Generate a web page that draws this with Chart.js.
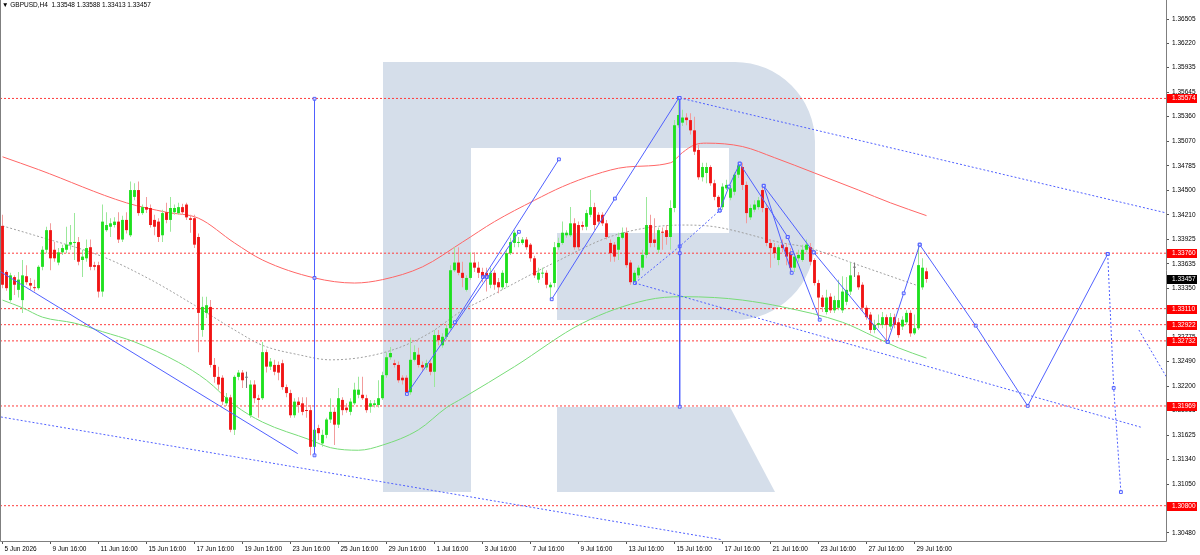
<!DOCTYPE html>
<html>
<head>
<meta charset="utf-8">
<script src="https://cdn.jsdelivr.net/npm/chart.js@4.4.1/dist/chart.umd.min.js"></script>
<style>
  html, body { margin: 0; padding: 0; background: #fff; }
  #wrap { position: relative; width: 1200px; height: 555px; }
  #title { position: absolute; left: 2px; top: 1px; font: 6.5px "Liberation Sans", Arial, sans-serif; line-height: 8px; color: #000; white-space: pre; }
</style>
</head>
<body>
<div id="wrap">
  <canvas id="chart" width="1200" height="555"></canvas>
  <div id="title">▼ GBPUSD,H4  1.33548 1.33588 1.33413 1.33457</div>
</div>
<script>
// H4 bars, index 0 = 5 Jun 2026 16:00
const timeLabels = ["5 Jun 2026", "9 Jun 16:00", "11 Jun 16:00", "15 Jun 16:00", "17 Jun 16:00", "19 Jun 16:00",
  "23 Jun 16:00", "25 Jun 16:00", "29 Jun 16:00", "1 Jul 16:00", "3 Jul 16:00", "7 Jul 16:00", "9 Jul 16:00",
  "13 Jul 16:00", "15 Jul 16:00", "17 Jul 16:00", "21 Jul 16:00", "23 Jul 16:00", "27 Jul 16:00", "29 Jul 16:00"];
const timeTickIdx = timeLabels.map((t, i) => i * 12);

const priceTicks = [1.36505, 1.36220, 1.35935, 1.35645, 1.35360, 1.35070, 1.34785, 1.34500, 1.34210, 1.33925,
  1.33635, 1.33350, 1.33065, 1.32775, 1.32490, 1.32200, 1.31915, 1.31625, 1.31340, 1.31050, 1.30765, 1.30480];

const opens = [
  1.3408,1.3354,1.3321,1.3348,1.3333,1.3321,1.3349,1.3341,1.3336,1.3335,
  1.3360,1.3380,1.3403,1.3380,1.3365,1.3377,1.3380,1.3386,1.3388,1.3389,
  1.3368,1.3370,1.3383,1.3362,1.3362,1.3331,1.3403,1.3407,1.3409,1.3413,
  1.3392,1.3415,1.3397,1.3442,1.3450,1.3423,1.3430,1.3429,1.3415,1.3413,
  1.3397,1.3424,1.3415,1.3424,1.3423,1.3430,1.3433,1.3417,1.3417,1.3395,
  1.3286,1.3306,1.3313,1.3245,1.3231,1.3230,1.3200,1.3207,1.3169,1.3231,
  1.3236,1.3230,1.3186,1.3222,1.3206,1.3206,1.3260,1.3243,1.3245,1.3245,
  1.3247,1.3219,1.3212,1.3186,1.3202,1.3200,1.3192,1.3192,1.3149,1.3171,
  1.3153,1.3163,1.3181,1.3190,1.3175,1.3204,1.3195,1.3190,1.3200,1.3210,
  1.3210,1.3206,1.3196,1.3198,1.3198,1.3206,1.3233,1.3254,1.3247,1.3245,
  1.3230,1.3230,1.3213,1.3251,1.3257,1.3245,1.3242,1.3247,1.3237,1.3280,
  1.3268,1.3278,1.3288,1.3356,1.3365,1.3353,1.3333,1.3347,1.3365,1.3359,
  1.3354,1.3353,1.3339,1.3353,1.3342,1.3336,1.3341,1.3376,1.3388,1.3388,
  1.3388,1.3392,1.3386,1.3370,1.3345,1.3352,1.3353,1.3336,1.3341,1.3383,
  1.3388,1.3397,1.3397,1.3411,1.3409,1.3409,1.3407,1.3421,1.3430,1.3421,
  1.3421,1.3411,1.3388,1.3386,1.3380,1.3394,1.3400,1.3365,1.3341,1.3350,
  1.3359,1.3374,1.3409,1.3392,1.3380,1.3401,1.3403,1.3395,1.3429,1.3526,
  1.3529,1.3535,1.3532,1.3520,1.3497,1.3465,1.3470,1.3477,1.3458,1.3442,
  1.3430,1.3452,1.3441,1.3448,1.3468,1.3477,1.3456,1.3418,1.3427,1.3430,
  1.3450,1.3429,1.3388,1.3383,1.3368,1.3386,1.3383,1.3377,1.3359,1.3370,
  1.3368,1.3380,1.3383,1.3368,1.3341,1.3324,1.3307,1.3325,1.3309,1.3312,
  1.3309,1.3319,1.3331,1.3359,1.3350,1.3339,1.3312,1.3304,1.3286,1.3292,
  1.3292,1.3301,1.3290,1.3301,1.3295,1.3290,1.3295,1.3306,1.3282,1.3288,
  1.3336,1.33548];
const highs = [
  1.3421,1.3356,1.3353,1.3350,1.3354,1.3368,1.3362,1.3347,1.3345,1.3362,
  1.3384,1.3407,1.3411,1.3389,1.3382,1.3386,1.3407,1.3409,1.3423,1.3395,
  1.3380,1.3392,1.3392,1.3366,1.3366,1.3433,1.3424,1.3417,1.3418,1.3424,
  1.3420,1.3424,1.3460,1.3458,1.3460,1.3433,1.3442,1.3433,1.3421,1.3417,
  1.3427,1.3435,1.3442,1.3433,1.3435,1.3434,1.3435,1.3421,1.3421,1.3399,
  1.3325,1.3325,1.3321,1.3253,1.3243,1.3233,1.3212,1.3210,1.3233,1.3239,
  1.3239,1.3237,1.3227,1.3227,1.3210,1.3272,1.3263,1.3253,1.3251,1.3249,
  1.3251,1.3222,1.3216,1.3206,1.3207,1.3207,1.3207,1.3198,1.3172,1.3175,
  1.3169,1.3183,1.3206,1.3195,1.3218,1.3207,1.3200,1.3206,1.3224,1.3231,
  1.3231,1.3210,1.3204,1.3204,1.3227,1.3237,1.3260,1.3266,1.3251,1.3249,
  1.3233,1.3233,1.3277,1.3268,1.3265,1.3249,1.3251,1.3251,1.3286,1.3286,
  1.3282,1.3292,1.3362,1.3383,1.3383,1.3366,1.3350,1.3377,1.3377,1.3366,
  1.3359,1.3359,1.3359,1.3356,1.3347,1.3356,1.3380,1.3394,1.3403,1.3395,
  1.3395,1.3395,1.3388,1.3373,1.3359,1.3359,1.3356,1.3342,1.3389,1.3394,
  1.3413,1.3403,1.3430,1.3417,1.3413,1.3413,1.3427,1.3450,1.3435,1.3424,
  1.3424,1.3415,1.3392,1.3389,1.3400,1.3406,1.3406,1.3368,1.3356,1.3362,
  1.3380,1.3442,1.3421,1.3417,1.3406,1.3406,1.3409,1.3438,1.3532,1.35574,
  1.3544,1.3540,1.3540,1.3536,1.3503,1.3482,1.3482,1.3479,1.3462,1.3444,
  1.3458,1.3462,1.3456,1.3471,1.3483,1.3482,1.3460,1.3433,1.3438,1.3442,
  1.3455,1.3433,1.3392,1.3388,1.3386,1.3392,1.3388,1.3382,1.3376,1.3380,
  1.3386,1.3392,1.3388,1.3370,1.3345,1.3327,1.3333,1.3329,1.3326,1.3345,
  1.3349,1.3348,1.3365,1.3365,1.3354,1.3342,1.3315,1.3307,1.3298,1.3304,
  1.3307,1.3304,1.3306,1.3305,1.3300,1.3302,1.3309,1.3309,1.3304,1.3386,
  1.3370,1.33588];
const lows = [
  1.3335,1.3332,1.3319,1.3327,1.3324,1.3306,1.3339,1.3333,1.3331,1.3333,
  1.3356,1.3376,1.3356,1.3366,1.3362,1.3374,1.3376,1.3380,1.3368,1.3362,
  1.3348,1.3366,1.3356,1.3356,1.3324,1.3325,1.3401,1.3395,1.3406,1.3388,
  1.3389,1.3399,1.3395,1.3438,1.3420,1.3421,1.3423,1.3406,1.3397,1.3389,
  1.3389,1.3411,1.3401,1.3421,1.3421,1.3421,1.3415,1.3400,1.3382,1.3260,
  1.3278,1.3300,1.3242,1.3224,1.3216,1.3198,1.3197,1.3166,1.3163,1.3227,
  1.3218,1.3218,1.3183,1.3200,1.3183,1.3204,1.3236,1.3239,1.3233,1.3227,
  1.3216,1.3207,1.3183,1.3183,1.3189,1.3186,1.3183,1.3139,1.3142,1.3157,
  1.3149,1.3159,1.3177,1.3151,1.3171,1.3186,1.3189,1.3186,1.3198,1.3206,
  1.3204,1.3189,1.3189,1.3195,1.3195,1.3204,1.3230,1.3251,1.3242,1.3224,
  1.3222,1.3210,1.3210,1.3249,1.3242,1.3237,1.3239,1.3233,1.3219,1.3268,
  1.3265,1.3274,1.3286,1.3354,1.3350,1.3336,1.3331,1.3345,1.3354,1.3347,
  1.3342,1.3331,1.3335,1.3333,1.3329,1.3333,1.3336,1.3374,1.3383,1.3383,
  1.3386,1.3380,1.3366,1.3347,1.3341,1.3347,1.3335,1.3321,1.3336,1.3380,
  1.3386,1.3394,1.3395,1.3380,1.3380,1.3403,1.3403,1.3418,1.3403,1.3409,
  1.3408,1.3392,1.3366,1.3366,1.3368,1.3392,1.3359,1.3339,1.3339,1.3347,
  1.3356,1.3370,1.3383,1.3383,1.3376,1.3380,1.3386,1.3380,1.3424,1.3523,
  1.3525,1.3526,1.3515,1.3491,1.3462,1.3460,1.3458,1.3455,1.3438,1.3427,
  1.3427,1.3450,1.3438,1.3444,1.3464,1.3450,1.3411,1.3415,1.3424,1.3427,
  1.3424,1.3384,1.3359,1.3370,1.3362,1.3377,1.3362,1.3354,1.3354,1.3366,
  1.3366,1.3377,1.3362,1.3338,1.3300,1.3307,1.3304,1.3306,1.3306,1.3309,
  1.3306,1.3315,1.3327,1.3348,1.3333,1.3307,1.3298,1.3282,1.3282,1.3288,
  1.3288,1.3273,1.3286,1.3288,1.3277,1.3286,1.3292,1.3278,1.3280,1.3286,
  1.3333,1.33413];
const closes = [
  1.3339,1.3335,1.3350,1.3339,1.3345,1.3350,1.3342,1.3338,1.3335,1.3360,
  1.3380,1.3403,1.3370,1.3370,1.3377,1.3382,1.3386,1.3389,1.3389,1.3366,
  1.3372,1.3382,1.3360,1.3360,1.3331,1.3413,1.3409,1.3411,1.3413,1.3392,
  1.3415,1.3403,1.3450,1.3450,1.3423,1.3430,1.3427,1.3409,1.3407,1.3395,
  1.3423,1.3415,1.3429,1.3429,1.3430,1.3424,1.3418,1.3415,1.3386,1.3306,
  1.3313,1.3315,1.3245,1.3231,1.3222,1.3202,1.3207,1.3169,1.3231,1.3236,
  1.3227,1.3230,1.3222,1.3206,1.3204,1.3260,1.3243,1.3249,1.3237,1.3236,
  1.3219,1.3212,1.3186,1.3202,1.3198,1.3190,1.3191,1.3149,1.3169,1.3165,
  1.3163,1.3181,1.3190,1.3175,1.3206,1.3192,1.3192,1.3202,1.3216,1.3216,
  1.3206,1.3192,1.3200,1.3200,1.3206,1.3233,1.3254,1.3259,1.3245,1.3227,
  1.3227,1.3213,1.3251,1.3260,1.3245,1.3242,1.3247,1.3237,1.3280,1.3274,
  1.3278,1.3288,1.3356,1.3365,1.3353,1.3347,1.3347,1.3365,1.3359,1.3353,
  1.3348,1.3348,1.3353,1.3339,1.3336,1.3353,1.3376,1.3389,1.3400,1.3389,
  1.3392,1.3383,1.3370,1.3350,1.3353,1.3353,1.3339,1.3339,1.3383,1.3388,
  1.3400,1.3400,1.3411,1.3383,1.3383,1.3407,1.3423,1.3430,1.3409,1.3413,
  1.3411,1.3395,1.3376,1.3372,1.3395,1.3400,1.3362,1.3342,1.3353,1.3359,
  1.3374,1.3409,1.3388,1.3388,1.3403,1.3400,1.3395,1.3429,1.3526,1.3538,
  1.3535,1.3532,1.3520,1.3495,1.3465,1.3477,1.3477,1.3458,1.3442,1.3430,
  1.3454,1.3456,1.3452,1.3468,1.3479,1.3456,1.3423,1.3429,1.3433,1.3438,
  1.3429,1.3388,1.3382,1.3376,1.3383,1.3382,1.3372,1.3359,1.3372,1.3374,
  1.3380,1.3386,1.3366,1.3341,1.3324,1.3313,1.3324,1.3309,1.3321,1.3321,
  1.3331,1.3333,1.3350,1.3359,1.3336,1.3312,1.3301,1.3286,1.3292,1.3294,
  1.3301,1.3292,1.3301,1.3292,1.3280,1.3298,1.3306,1.3282,1.3288,1.3362,
  1.3359,1.33457];

// moving averages, sampled [bar, price]
const maRed = [[0,1.3489],[9,1.3474],[31,1.3435],[41,1.3424],[49,1.3417],[58,1.3388],[65,1.3368],[78,1.3347],
  [88,1.3341],[95,1.3345],[105,1.3360],[115,1.3389],[123,1.3413],[133,1.3438],[140,1.3454],[148,1.3468],
  [156,1.3477],[167,1.3482],[170,1.3494],[173,1.3503],[176,1.3505],[185,1.3501],[193,1.3488],[203,1.3470],
  [214,1.3450],[222,1.3435],[231,1.3420]];
const maGreen = [[0,1.3321],[5,1.3312],[10,1.3301],[18,1.3294],[25,1.3284],[33,1.3272],[44,1.3248],[51,1.3227],
  [58,1.3198],[65,1.3178],[77,1.3157],[82,1.3148],[89,1.3145],[95,1.3151],[104,1.3169],[111,1.3195],
  [115,1.3206],[128,1.3243],[145,1.3294],[161,1.3321],[170,1.3325],[178,1.3324],[185,1.3321],[195,1.3313],
  [210,1.3295],[218,1.3278],[224,1.3265],[231,1.3253]];
const maGrey = [[0,1.3408],[8,1.3397],[25,1.3372],[37,1.3345],[48,1.3315],[58,1.3286],[65,1.3268],[74,1.3257],
  [82,1.3251],[90,1.3254],[99,1.3265],[107,1.3283],[115,1.3309],[120,1.3321],[138,1.3365],[153,1.3397],
  [170,1.3409],[178,1.3407],[195,1.3388],[201,1.3383],[214,1.3362],[230,1.3336]];

const levels = [1.35574, 1.33760, 1.33110, 1.32922, 1.32732, 1.31969, 1.30800];
const lastPrice = 1.33457;

// drawn objects, [bar, price]
const channelLines = [
  [[-0.4,1.3354],[73.8,1.3141]]
];
const solidLines = [
  [[78,1.3557],[78,1.3347],[78,1.3139]],
  [[169.3,1.3558],[169.3,1.3376],[169.3,1.3196]],
  [[101.1,1.3211],[129.1,1.3401]],
  [[113.1,1.3295],[139.1,1.3486]],
  [[120.1,1.3348],[121.1,1.3348]],
  [[137.3,1.3322],[153.1,1.3440],[169.1,1.3558]],
  [[179.3,1.3426],[181.6,1.3454],[184.3,1.3481]],
  [[184.3,1.3481],[196.3,1.3395]],
  [[190.3,1.3455],[197.3,1.3353]],
  [[190.3,1.3455],[202.8,1.3377]],
  [[196.3,1.3395],[204.3,1.3298]],
  [[202.8,1.3377],[221.3,1.3272]],
  [[221.3,1.3272],[225.3,1.3329],[229.3,1.3386]],
  [[229.3,1.3386],[243.3,1.3291],[256.3,1.3197],[276.3,1.3375]]
];
const dottedLines = [
  [[-0.4,1.3184],[180,1.3040]],
  [[169.3,1.3558],[291.1,1.3423]],
  [[158.1,1.3341],[284.6,1.3172]],
  [[284.1,1.3286],[291.1,1.3230]]
];
const dottedMarked = [
  [[158.1,1.3341],[169.3,1.3384],[179.3,1.3426]],
  [[276.3,1.3375],[277.8,1.3218],[279.6,1.3096]]
];
const loneMarks = [[197.3,1.3376]];

const X_MIN = -0.625, X_MAX = 290.875;
const Y_MIN = 1.30386, Y_MAX = 1.36728;
const FONT = { family: '"Liberation Sans", Arial, sans-serif', size: 6.5 };
const BLUE = '#5060ff';

const toXY = arr => arr.map(p => ({ x: p[0], y: p[1] }));
const dir = i => closes[i] > opens[i] ? 1 : (closes[i] < opens[i] ? -1 : 0);

const datasets = [];

levels.forEach(L => datasets.push({
  type: 'line', data: [{ x: X_MIN, y: L }, { x: X_MAX, y: L }],
  borderColor: '#ff3c3c', borderWidth: 1, borderDash: [2, 2], pointRadius: 0, order: 7
}));

[[maRed, '#ff6666', []], [maGreen, '#78dc78', []], [maGrey, '#a0a0a0', [2, 2]]].forEach(([m, col, dash]) => datasets.push({
  type: 'line', data: toXY(m), borderColor: col, borderWidth: 1, borderDash: dash,
  pointRadius: 0, cubicInterpolationMode: 'monotone', order: 6
}));

// wicks
datasets.push({
  type: 'bar', data: opens.map((o, i) => ({ x: i, y: [lows[i], highs[i]] })),
  backgroundColor: ctx => { const d = dir(ctx.dataIndex); return d > 0 ? '#9be89b' : d < 0 ? '#f29c9c' : '#7a7a7a'; },
  maxBarThickness: 1, grouped: false, borderWidth: 0, inflateAmount: 0, minBarLength: 1, order: 4
});
// bodies
datasets.push({
  type: 'bar', data: opens.map((o, i) => ({ x: i, y: [o, closes[i]] })),
  backgroundColor: ctx => { const d = dir(ctx.dataIndex); return d > 0 ? '#1ee01e' : d < 0 ? '#f01414' : '#7a7a7a'; },
  maxBarThickness: 3, grouped: false, borderWidth: 0, inflateAmount: 0, minBarLength: 1, order: 3
});

const mark = { pointStyle: 'rect', pointRadius: 2, pointHoverRadius: 2, pointBorderWidth: 1, pointBorderColor: BLUE, pointBackgroundColor: 'rgba(255,255,255,0.6)' };
channelLines.forEach(l => datasets.push({ type: 'line', data: toXY(l), borderColor: BLUE, borderWidth: 1, pointRadius: 0, order: 1 }));
solidLines.forEach(l => datasets.push(Object.assign({ type: 'line', data: toXY(l), borderColor: BLUE, borderWidth: 1, order: 1 }, mark)));
dottedLines.forEach(l => datasets.push({ type: 'line', data: toXY(l), borderColor: BLUE, borderWidth: 1, borderDash: [2, 2], pointRadius: 0, order: 1 }));
dottedMarked.forEach(l => datasets.push(Object.assign({ type: 'line', data: toXY(l), borderColor: BLUE, borderWidth: 1, borderDash: [2, 2], order: 1 }, mark)));
datasets.push(Object.assign({ type: 'line', data: toXY(loneMarks), showLine: false, order: 1 }, mark));

// watermark logo + frame + price labels
const decor = {
  id: 'decor',
  beforeDatasetsDraw(chart) {
    const c = chart.ctx;
    c.save();
    c.fillStyle = '#d5deea';
    c.beginPath();
    c.moveTo(383, 62); c.lineTo(735, 62);
    c.arcTo(815, 62, 815, 142, 80);
    c.lineTo(815, 240);
    c.arcTo(815, 320, 735, 320, 80);
    c.lineTo(557, 320); c.lineTo(557, 233); c.lineTo(729, 233); c.lineTo(729, 148);
    c.lineTo(471, 148); c.lineTo(471, 492); c.lineTo(383, 492);
    c.closePath(); c.fill();
    c.beginPath();
    c.moveTo(557, 407); c.lineTo(730, 407); c.lineTo(775, 492); c.lineTo(557, 492);
    c.closePath(); c.fill();
    c.restore();
  },
  afterDraw(chart) {
    const c = chart.ctx, a = chart.chartArea, ys = chart.scales.y;
    c.save();
    c.strokeStyle = '#7f7f7f';
    c.lineWidth = 1;
    c.beginPath();
    c.moveTo(0.5, a.top); c.lineTo(0.5, a.bottom + 0.5);
    c.lineTo(a.right + 0.5, a.bottom + 0.5); c.lineTo(a.right + 0.5, a.top);
    c.stroke();
    c.font = '6.5px "Liberation Sans", Arial, sans-serif';
    c.textBaseline = 'middle';
    const tag = (v, bg) => {
      const y = Math.round(ys.getPixelForValue(v));
      c.fillStyle = bg;
      c.fillRect(a.right + 1, y - 4, 30, 9);
      c.fillStyle = '#fff';
      c.fillText(v.toFixed(5), a.right + 6, y + 0.5);
    };
    levels.forEach(v => tag(v, '#ff0000'));
    tag(lastPrice, '#000000');
    c.restore();
  }
};

new Chart(document.getElementById('chart'), {
  type: 'bar',
  data: { datasets },
  options: {
    responsive: false,
    animation: false,
    layout: { padding: 0, autoPadding: false },
    plugins: { legend: { display: false }, tooltip: { enabled: false } },
    scales: {
      x: {
        type: 'linear', min: X_MIN, max: X_MAX, offset: false,
        grid: { display: true, drawOnChartArea: false, drawTicks: true, tickLength: 3, color: '#555', offset: false },
        border: { display: false },
        ticks: {
          autoSkip: false, maxRotation: 0, align: 'start', labelOffset: 2, padding: 1,
          color: '#000', font: FONT,
          callback: (v, i) => timeLabels[i]
        },
        afterBuildTicks: s => { s.ticks = timeTickIdx.map(v => ({ value: v })); },
        afterFit: s => { s.height = 14; s.paddingLeft = 0; s.paddingRight = 0; }
      },
      y: {
        position: 'right', min: Y_MIN, max: Y_MAX,
        grid: { display: true, drawOnChartArea: false, drawTicks: true, tickLength: 3, color: '#555' },
        border: { display: false },
        ticks: { padding: 3, color: '#000', font: FONT, callback: v => v.toFixed(5) },
        afterBuildTicks: s => { s.ticks = priceTicks.map(v => ({ value: v })); },
        afterFit: s => { s.width = 34; s.paddingTop = 0; s.paddingBottom = 0; }
      }
    }
  },
  plugins: [decor]
});
</script>
</body>
</html>
